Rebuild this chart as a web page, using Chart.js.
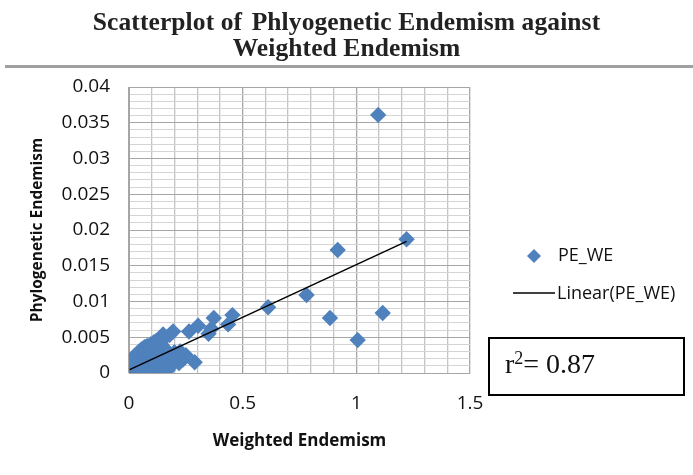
<!DOCTYPE html>
<html lang="en">
<head>
<meta charset="UTF-8">
<title>Scatterplot of Phlyogenetic Endemism against Weighted Endemism</title>
<script src="https://cdn.jsdelivr.net/npm/chart.js"></script>
<style>
  html, body { margin: 0; padding: 0; background: #fff; }
  #wrap { position: relative; width: 693px; height: 475px; overflow: hidden; }
  #chart { position: absolute; left: 0; top: 0; }
  #title {
    position: absolute; left: 0; top: 9px; width: 693px; text-align: center;
    font-family: "Liberation Serif", "DejaVu Serif", serif; font-weight: bold;
    font-size: 25.5px; line-height: 26px; color: #222; letter-spacing: 0.1px;
  }
  #rule { position: absolute; left: 5px; top: 65px; width: 688px; height: 3px; background: #a0a0a0; }
  #r2 {
    position: absolute; left: 488px; top: 337px; width: 197px; height: 59px;
    border: 2px solid #000; box-sizing: border-box;
    font-family: "Liberation Serif", serif; font-size: 28px; color: #111;
    padding-left: 15px; line-height: 50px;
  }
  #r2 sup { font-size: 18px; vertical-align: 9px; line-height: 0; }
</style>
</head>
<body>
<div id="wrap">
  <canvas id="chart" width="693" height="475"></canvas>
  <div id="title">Scatterplot of <span style="margin-left:3px">Phlyogenetic</span> Endemism against<br>Weighted Endemism</div>
  <div id="rule"></div>
  <div id="r2">r<sup>2</sup>= 0.87</div>
</div>
<script>
// weighted endemism (x) and phylogenetic endemism (y)
const weightedEndemism = [
  1.096, 1.221, 0.918, 0.781, 0.612, 1.116, 0.884, 1.006, 0.455, 0.436,
  0.373, 0.362, 0.350, 0.304, 0.264, 0.289, 0.238, 0.250, 0.225, 0.194,
  0.178, 0.150, 0.135, 0.120, 0.106, 0.179, 0.160,
  0.002, 0.005, 0.008, 0.010, 0.012, 0.015, 0.018, 0.020, 0.022, 0.025,
  0.028, 0.030, 0.033, 0.036, 0.038, 0.040, 0.043, 0.046, 0.050, 0.052,
  0.055, 0.058, 0.060, 0.063, 0.066, 0.070, 0.072, 0.075, 0.078, 0.080,
  0.083, 0.086, 0.090, 0.092, 0.095, 0.098, 0.100, 0.103, 0.106, 0.110,
  0.113, 0.116, 0.120, 0.123, 0.126, 0.130, 0.133, 0.137, 0.140, 0.145,
  0.150, 0.155, 0.160, 0.165, 0.170, 0.175, 0.180, 0.190, 0.200, 0.210, 0.220,
  0.010, 0.030, 0.050, 0.065, 0.080, 0.095, 0.110, 0.130, 0.140, 0.045,
  0.060, 0.085, 0.100, 0.115, 0.130, 0.150, 0.165, 0.185, 0.215,
  0.004, 0.015, 0.025, 0.035, 0.045, 0.055, 0.068, 0.075, 0.088, 0.105,
  0.118, 0.128, 0.142, 0.158, 0.120, 0.090, 0.070, 0.170, 0.195
];
const phyloEndemism = [
  0.0361, 0.0187, 0.0172, 0.0109, 0.0092, 0.0084, 0.0077, 0.0046, 0.0081, 0.0068,
  0.0077, 0.0062, 0.0055, 0.0066, 0.0058, 0.0015, 0.0019, 0.0025, 0.0030, 0.0058,
  0.0053, 0.0054, 0.0048, 0.0045, 0.0041, 0.0008, 0.0012,
  0.0003, 0.0006, 0.0002, 0.0009, 0.0004, 0.0012, 0.0007, 0.0002, 0.0015, 0.0010,
  0.0005, 0.0018, 0.0012, 0.0008, 0.0003, 0.0020, 0.0014, 0.0010, 0.0022, 0.0006,
  0.0016, 0.0025, 0.0011, 0.0019, 0.0003, 0.0027, 0.0015, 0.0008, 0.0022, 0.0030,
  0.0012, 0.0018, 0.0033, 0.0005, 0.0025, 0.0014, 0.0036, 0.0021, 0.0009, 0.0030,
  0.0017, 0.0038, 0.0025, 0.0003, 0.0032, 0.0012, 0.0020, 0.0029, 0.0007, 0.0036,
  0.0022, 0.0015, 0.0030, 0.0026, 0.0011, 0.0028, 0.0019, 0.0024, 0.0029, 0.0021, 0.0014,
  0.0015, 0.0022, 0.0028, 0.0032, 0.0038, 0.0040, 0.0043, 0.0039, 0.0044, 0.0003,
  0.0001, 0.0002, 0.0002, 0.0006, 0.0004, 0.0009, 0.0018, 0.0022, 0.0025,
  0.0012, 0.0019, 0.0024, 0.0027, 0.0030, 0.0033, 0.0036, 0.0031, 0.0028, 0.0040,
  0.0034, 0.0042, 0.0040, 0.0034, 0.0008, 0.0010, 0.0006, 0.0004, 0.0018
];
// linear trend line end points, as drawn
const trendX = [0.003, 1.221];
const trendY = [0.00047, 0.0184];

const xMajor = 0.5, xMinor = 0.1, xMax = 1.5;
const yMajor = 0.005, yMinor = 0.001, yMax = 0.04;

const points = weightedEndemism.map((x, i) => ({ x: x, y: phyloEndemism[i] }));
const trend = trendX.map((x, i) => ({ x: x, y: trendY[i] }));

const isMajor = (v, step) => Math.abs(v / step - Math.round(v / step)) < 1e-6;
const tickFont = { family: 'Open Sans', size: 19 };
const blue = '#4F81BD';

// legend drawn at the right of the plot, like the spreadsheet one
const sideLegend = {
  id: 'sideLegend',
  afterDraw(chart) {
    const ctx = chart.ctx;
    ctx.save();
    ctx.fillStyle = blue;
    ctx.beginPath();
    ctx.moveTo(534, 249); ctx.lineTo(541, 256); ctx.lineTo(534, 263); ctx.lineTo(527, 256);
    ctx.closePath(); ctx.fill();
    ctx.strokeStyle = '#000';
    ctx.lineWidth = 1.5;
    ctx.beginPath(); ctx.moveTo(513, 293); ctx.lineTo(555, 293); ctx.stroke();
    ctx.fillStyle = '#111';
    ctx.font = '18px "Open Sans"';
    ctx.textBaseline = 'middle';
    ctx.fillText('PE_WE', 558, 256);
    ctx.fillText('Linear(PE_WE)', 557, 294);
    ctx.restore();
  }
};

new Chart(document.getElementById('chart'), {
  type: 'scatter',
  data: {
    datasets: [{
      label: 'PE_WE',
      data: points,
      pointStyle: 'rectRot',
      pointRadius: 8.2,
      backgroundColor: blue,
      borderColor: blue,
      borderWidth: 0,
      order: 1
    }, {
      label: 'Linear(PE_WE)',
      data: trend,
      showLine: true,
      borderColor: '#000',
      borderWidth: 1.5,
      pointRadius: 0,
      order: 0
    }]
  },
  options: {
    responsive: false,
    animation: false,
    layout: { padding: { top: 87, right: 223, left: 0, bottom: 0 } },
    plugins: { legend: { display: false }, tooltip: { enabled: false } },
    scales: {
      x: {
        min: 0, max: xMax,
        afterFit(scale) { scale.height = 102; },
        ticks: {
          stepSize: xMinor, autoSkip: false, maxRotation: 0, padding: 19,
          color: '#111', font: tickFont,
          callback: v => isMajor(v, xMajor) ? String(Math.round(v * 10) / 10) : ''
        },
        grid: {
          drawTicks: false,
          lineWidth: 1.3,
          color: ctx => isMajor(ctx.tick.value, xMajor) ? '#a6a6a6' : '#c4c4c4'
        },
        border: { color: '#a6a6a6' },
        title: {
          display: true, text: 'Weighted Endemism', color: '#111',
          font: { family: 'Open Sans', size: 17, weight: 'bold' },
          padding: { top: 0, bottom: 24 }
        }
      },
      y: {
        min: 0, max: yMax,
        afterFit(scale) { scale.width = 129; },
        ticks: {
          stepSize: yMinor, autoSkip: false, padding: 19,
          color: '#111', font: tickFont,
          callback: v => v === 0 ? '0' : (isMajor(v, yMajor) ? String(Math.round(v * 1000) / 1000) : '')
        },
        grid: {
          drawTicks: false,
          color: ctx => isMajor(ctx.tick.value, yMajor) ? '#a6a6a6' : '#d4d4d4'
        },
        border: { color: '#a6a6a6' },
        title: {
          display: true, text: 'Phylogenetic Endemism', color: '#111',
          font: { family: 'Open Sans', size: 15.5, weight: 'bold' },
          padding: { top: 28, bottom: 0 }
        }
      }
    }
  },
  plugins: [sideLegend]
});
</script>
</body>
</html>
